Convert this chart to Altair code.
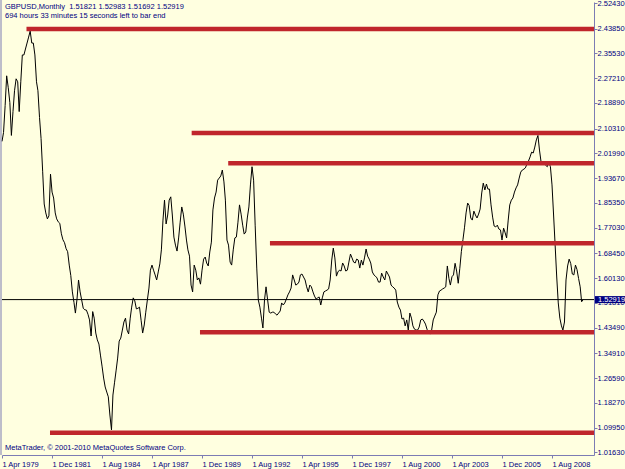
import altair as alt
import pandas as pd

# ---------------- data (monthly closes, GBPUSD) ----------------
close_1979 = [2.06, 2.09, 2.18, 2.28, 2.24, 2.19, 2.08, 2.16, 2.23]  # Apr-Dec
close_1980 = [2.27, 2.26, 2.16, 2.26, 2.35, 2.35, 2.37, 2.39, 2.41, 2.43, 2.39, 2.39]
close_1981 = [2.35, 2.26, 2.23, 2.14, 2.07, 1.96, 1.85, 1.82, 1.80, 1.81, 1.95, 1.89]
close_1982 = [1.87, 1.82, 1.80, 1.79, 1.785, 1.75, 1.73, 1.72, 1.70, 1.69, 1.645, 1.61]
close_1983 = [1.555, 1.52, 1.484, 1.53, 1.595, 1.555, 1.528, 1.50, 1.495, 1.494, 1.48, 1.461]
close_1984 = [1.407, 1.489, 1.467, 1.417, 1.394, 1.380, 1.343, 1.306, 1.266, 1.236, 1.219, 1.203]
close_1985 = [1.142, 1.092, 1.209, 1.25, 1.29, 1.333, 1.39, 1.40, 1.427, 1.454, 1.467, 1.427]
close_1986 = [1.414, 1.467, 1.504, 1.535, 1.525, 1.498, 1.50, 1.504, 1.46, 1.417, 1.444, 1.487]
close_1987 = [1.528, 1.568, 1.628, 1.645, 1.628, 1.612, 1.595, 1.622, 1.649, 1.696, 1.796, 1.863]
close_1988 = [1.783, 1.813, 1.863, 1.874, 1.813, 1.739, 1.712, 1.692, 1.736, 1.789, 1.840, 1.816]
close_1989 = [1.776, 1.729, 1.696, 1.675, 1.578, 1.555, 1.645, 1.628, 1.595, 1.602, 1.581, 1.628]
close_1990 = [1.665, 1.672, 1.652, 1.642, 1.689, 1.722, 1.830, 1.870, 1.890, 1.930, 1.937, 1.944]
close_1991 = [1.964, 1.924, 1.863, 1.729, 1.712, 1.655, 1.645, 1.696, 1.736, 1.739, 1.789, 1.847]
close_1992 = [1.816, 1.779, 1.749, 1.756, 1.803, 1.840, 1.914, 1.975, 1.930, 1.779, 1.635, 1.528]
close_1993 = [1.504, 1.467, 1.434, 1.528, 1.572, 1.528, 1.487, 1.484, 1.487, 1.487, 1.481, 1.477]
close_1994 = [1.484, 1.491, 1.518, 1.511, 1.518, 1.531, 1.545, 1.555, 1.568, 1.612, 1.595, 1.578]
close_1995 = [1.581, 1.588, 1.612, 1.615, 1.605, 1.595, 1.572, 1.555, 1.578, 1.572, 1.555, 1.541]
close_1996 = [1.531, 1.535, 1.538, 1.511, 1.535, 1.555, 1.558, 1.561, 1.565, 1.595, 1.662, 1.702]
close_1997 = [1.669, 1.608, 1.622, 1.628, 1.625, 1.652, 1.642, 1.625, 1.628, 1.655, 1.682, 1.669]
close_1998 = [1.655, 1.652, 1.665, 1.662, 1.635, 1.662, 1.645, 1.669, 1.699, 1.675, 1.665, 1.652]
close_1999 = [1.622, 1.612, 1.608, 1.602, 1.588, 1.588, 1.618, 1.605, 1.595, 1.625, 1.615, 1.605]
close_2000 = [1.578, 1.572, 1.568, 1.561, 1.521, 1.504, 1.494, 1.464, 1.467, 1.441, 1.461, 1.427]
close_2001 = [1.484, 1.467, 1.441, 1.430, 1.427, 1.427, 1.437, 1.461, 1.464, 1.457, 1.447, 1.430]
close_2002 = [1.417, 1.414, 1.427, 1.461, 1.474, 1.487, 1.545, 1.558, 1.561, 1.565, 1.568, 1.572]
close_2003 = [1.642, 1.600, 1.578, 1.606, 1.612, 1.651, 1.625, 1.584, 1.634, 1.690, 1.730, 1.770]
close_2004 = [1.820, 1.853, 1.845, 1.803, 1.796, 1.826, 1.813, 1.803, 1.816, 1.833, 1.887, 1.920]
close_2005 = [1.897, 1.917, 1.900, 1.900, 1.847, 1.806, 1.776, 1.773, 1.779, 1.766, 1.763, 1.729]
close_2006 = [1.769, 1.753, 1.736, 1.796, 1.847, 1.863, 1.870, 1.890, 1.904, 1.914, 1.937, 1.957]
close_2007 = [1.964, 1.967, 1.971, 1.984, 1.994, 2.008, 2.024, 2.021, 2.041, 2.065, 2.080, 2.031]
close_2008 = [1.991, 1.990, 1.985, 1.980, 1.975, 1.990, 1.975, 1.914, 1.813, 1.712, 1.605, 1.518]
close_2009 = [1.467, 1.441, 1.427, 1.454, 1.595, 1.642, 1.665, 1.650, 1.615, 1.612, 1.645, 1.630]
close_2010 = [1.600, 1.572, 1.522, 1.52919]  # Jan-Apr

level_start = ["1980-07-21", "1989-05-13", "1991-04-25", "1993-07-16", "1989-10-22", "1981-10-22"]
level_value = [2.437, 2.088, 1.987, 1.718, 1.4195, 1.0826]

current_price = 1.52919

y_tick_labels = ["2.52430", "2.43850", "2.35530", "2.27210", "2.18890", "2.10310",
                 "2.01990", "1.93670", "1.85350", "1.77030", "1.68450", "1.60130",
                 "1.51810", "1.43490", "1.34910", "1.26590", "1.18270", "1.09950",
                 "1.01630"]
x_tick_labels = ["1 Apr 1979", "1 Dec 1981", "1 Aug 1984", "1 Apr 1987", "1 Dec 1989",
                 "1 Aug 1992", "1 Apr 1995", "1 Dec 1997", "1 Aug 2000", "1 Apr 2003",
                 "1 Dec 2005", "1 Aug 2008"]

header_line1 = "GBPUSD,Monthly\u00a0\u00a01.51821 1.52983 1.51692 1.52919"
header_line2 = "694 hours 33 minutes 15 seconds left to bar end"
footer_text = "MetaTrader, \u00a9 2001-2010 MetaQuotes Software Corp."

# ---------------- build tables ----------------
closes = (close_1979 + close_1980 + close_1981 + close_1982 + close_1983 + close_1984 +
          close_1985 + close_1986 + close_1987 + close_1988 + close_1989 + close_1990 +
          close_1991 + close_1992 + close_1993 + close_1994 + close_1995 + close_1996 +
          close_1997 + close_1998 + close_1999 + close_2000 + close_2001 + close_2002 +
          close_2003 + close_2004 + close_2005 + close_2006 + close_2007 + close_2008 +
          close_2009 + close_2010)
dates = pd.date_range("1979-04-01", periods=len(closes), freq="MS")
df = pd.DataFrame({"date": dates.strftime("%Y-%m-%d"), "close": closes})

lv = pd.DataFrame({"start": level_start, "value": level_value})

W, H = 592, 453
BG = "#FFFFE0"
NAVY = "#000080"
AXC = "#7C7CB4"
RED = "#C0262C"
FONT = "Liberation Sans"
FS = 7.5


def ms(s):
    return int(pd.Timestamp(s, tz="UTC").value // 10**6)


t0 = ms("1979-04-01")
t_ref = ms("2008-08-01")
per_px = (t_ref - t0) / 550.0
t1 = t0 + W * per_px

x_vals = [ms(pd.to_datetime(s, format="%d %b %Y").strftime("%Y-%m-%d")) for s in x_tick_labels]
y_vals = [float(v) for v in y_tick_labels]

x_scale = alt.Scale(type="utc", domain=[t0, t1], nice=False)
y_scale = alt.Scale(domain=[1.0078, 2.5277], zero=False, nice=False)

x_axis = alt.Axis(values=x_vals, title=None, grid=False,
                  labelExpr="utcFormat(datum.value, '%-d %b %Y')",
                  labelAlign="left", labelBaseline="top", labelPadding=2,
                  labelOverlap=False, labelFlush=False, labelBound=False,
                  tickSize=3)
y_axis = alt.Axis(orient="right", values=y_vals, format=".5f", title=None, grid=False,
                  labelAlign="left", labelBaseline="middle", labelPadding=0,
                  labelOverlap=False, labelFlush=False, labelBound=False,
                  tickSize=3)

price = alt.Chart(df).mark_line(color="black", strokeWidth=1).encode(
    x=alt.X("date:T", scale=x_scale, axis=x_axis, title=None),
    y=alt.Y("close:Q", scale=y_scale, axis=y_axis, title=None),
)

levels = alt.Chart(lv).mark_rule(color=RED, strokeWidth=4.5).encode(
    x=alt.X("start:T", scale=x_scale, axis=x_axis, title=None),
    x2=alt.value(W),
    y=alt.Y("value:Q", scale=y_scale, axis=y_axis, title=None),
)

cur = pd.DataFrame({"p": [current_price], "lo": [current_price - 0.0118],
                    "hi": [current_price + 0.0118], "label": [f"{current_price:.5f}"]})

cur_line = alt.Chart(cur).mark_rule(color="black", strokeWidth=1).encode(
    x=alt.value(0), x2=alt.value(W),
    y=alt.Y("p:Q", scale=y_scale, axis=y_axis, title=None))
cur_box = alt.Chart(cur).mark_rect(color=NAVY).encode(
    x=alt.value(W + 1), x2=alt.value(W + 31),
    y=alt.Y("lo:Q", scale=y_scale, axis=y_axis, title=None), y2="hi:Q")
cur_text = alt.Chart(cur).mark_text(color="white", align="left", baseline="middle",
                                    font=FONT, fontSize=FS).encode(
    x=alt.value(W + 4),
    y=alt.Y("p:Q", scale=y_scale, axis=y_axis, title=None), text="label:N")

left_border = alt.Chart(cur).mark_rule(color=AXC, strokeWidth=1).encode(
    x=alt.value(-1), y=alt.value(-2), y2=alt.value(H))


def label(txt, ypx):
    return alt.Chart(pd.DataFrame({"t": [txt]})).mark_text(
        align="left", baseline="middle", font=FONT, fontSize=FS, color=NAVY
    ).encode(x=alt.value(3), y=alt.value(ypx), text="t:N")


header1 = label(header_line1, 5)
header2 = label(header_line2, 14)
footer = label(footer_text, H - 7)

chart = alt.layer(price, cur_line, levels, cur_box, cur_text, left_border,
                  header1, header2, footer).properties(
    width=W, height=H,
    background=BG,
    padding={"left": 2, "top": 2, "right": 31, "bottom": 14},
    autosize=alt.AutoSizeParams(type="none"),
).configure_view(stroke=None).configure_axis(
    labelFont=FONT, labelFontSize=FS, labelColor=NAVY,
    domainColor=AXC, tickColor=AXC, domainWidth=1, tickWidth=1,
)

chart.save("out.html", embed_options={"renderer": "svg", "actions": False})
